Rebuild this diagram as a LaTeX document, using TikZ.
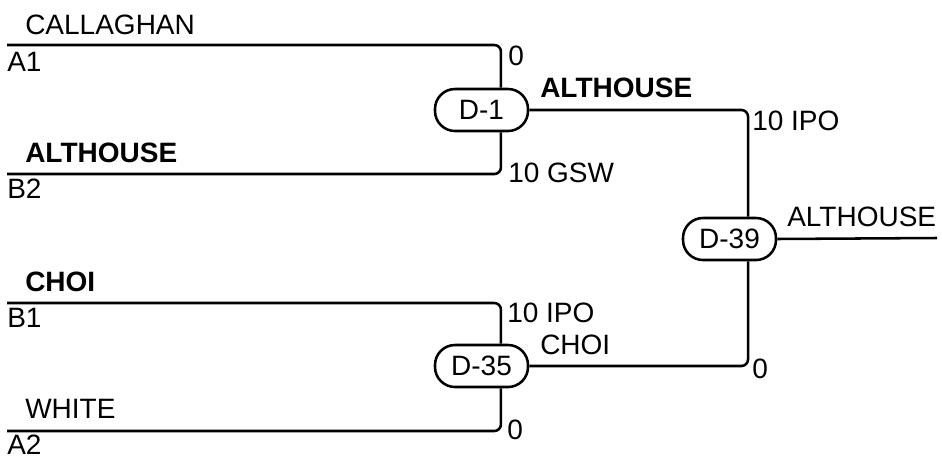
\documentclass[tikz,border=0pt]{standalone}
\usepackage{fontspec}
\setmainfont{Liberation Sans}
\tikzset{
  game/.style={draw, line width=1.9pt, rounded corners=15pt, minimum width=69.75pt, minimum height=31.5pt, inner sep=0pt, font=\fontsize{21}{25}\selectfont},
  lbl/.style={anchor=base west, inner sep=0pt, font=\fontsize{21}{25}\selectfont},
  wire/.style={line width=1.9pt, rounded corners=5pt}
}
\begin{document}
\begin{tikzpicture}[x=0.75pt, y=-0.75pt]
    \useasboundingbox (0,0) rectangle (942,457);
    % games
    \node[game] (d1) at (481.5,110) {D-1};
    \node[game] (d35) at (481.5,366) {D-35};
    \node[game] (d39) at (729.5,239) {D-39};
    % entry lines
    \coordinate (a1) at (7,45);
    \coordinate (b2) at (7,174);
    \coordinate (b1) at (7,303);
    \coordinate (a2) at (7,431);
    \coordinate (champ) at (937,238);
    \draw[wire] (a1) -| ([xshift=14.6pt]d1.north);
    \draw[wire] (b2) -| ([xshift=14.6pt]d1.south);
    \draw[wire] (b1) -| ([xshift=14.6pt]d35.north);
    \draw[wire] (a2) -| ([xshift=14.6pt]d35.south);
    \draw[wire] (d1.east) -| ([xshift=13.9pt]d39.north);
    \draw[wire] (d35.east) -| ([xshift=13.9pt]d39.south);
    \draw[wire] (d39.east) -- (champ);
    % names and seeds
    \node[lbl] (callaghan) at (25,34) {CALLAGHAN};
    \node[lbl] (sa1) at (7,71) {A1};
    \node[lbl] (althouse1) at (25,162) {\bfseries ALTHOUSE};
    \node[lbl] (sb2) at (7,198) {B2};
    \node[lbl] (choi1) at (25,291) {\bfseries CHOI};
    \node[lbl] (sb1) at (7,327) {B1};
    \node[lbl] (white) at (25,418) {WHITE};
    \node[lbl] (sa2) at (7,454.5) {A2};
    % scores
    \node[lbl] (sc1) at (508,65) {0};
    \node[lbl] (sc2) at (508,182) {10 GSW};
    \node[lbl] (sc3) at (507,322) {10 IPO};
    \node[lbl] (sc4) at (507,439) {0};
    \node[lbl] (sc5) at (752,130) {10 IPO};
    \node[lbl] (sc6) at (752,378) {0};
    % winners
    \node[lbl] (althouse2) at (540,97) {\bfseries ALTHOUSE};
    \node[lbl] (choi2) at (540,354) {CHOI};
    \node[lbl] (althouse3) at (787,226) {ALTHOUSE};
\end{tikzpicture}
\end{document}
